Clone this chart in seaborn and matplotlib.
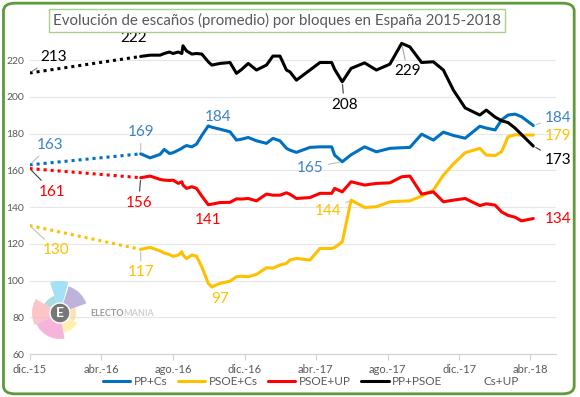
import matplotlib as mpl
import matplotlib.dates as mdates
import numpy as np
import pandas as pd
import seaborn as sns
from matplotlib import pyplot as plt
from matplotlib.lines import Line2D
from matplotlib.patches import FancyBboxPatch, Wedge, Circle

# fechas: resultado 20D-2015, resultado 26J-2016 y promedio de encuestas
fechas = [
    '2015-12-20', '2016-06-26', '2016-07-12', '2016-07-29', '2016-08-05', '2016-08-14',
    '2016-08-20', '2016-08-29', '2016-09-04', '2016-09-06', '2016-09-12', '2016-09-21',
    '2016-09-29', '2016-10-08', '2016-10-19', '2016-10-25', '2016-11-08', '2016-11-25',
    '2016-12-06', '2016-12-15', '2016-12-26', '2017-01-09', '2017-01-26', '2017-02-06',
    '2017-02-18', '2017-03-01', '2017-03-07', '2017-03-18', '2017-04-10', '2017-04-27',
    '2017-05-17', '2017-05-22', '2017-06-04', '2017-06-19', '2017-07-12', '2017-08-01',
    '2017-08-24', '2017-09-13', '2017-09-27', '2017-10-17', '2017-11-06', '2017-11-23',
    '2017-12-10', '2017-12-30', '2018-01-24', '2018-02-04', '2018-02-19', '2018-03-02',
    '2018-03-13', '2018-03-25', '2018-04-05', '2018-04-25',
]
pp_cs = [
    163, 169, 166.8, 168.7, 171.4, 169.2, 169.6, 171.0, 172.0, 172.5, 173.5, 172.8,
    174.3, 179.0, 184.2, 183.5, 182.4, 181.0, 176.5, 177.0, 177.9, 176.1, 174.7, 177.4,
    176.1, 172.0, 171.0, 169.8, 172.5, 172.8, 172.8, 168.3, 164.7, 168.5, 172.8, 170.1,
    172.0, 172.3, 172.5, 179.7, 176.5, 180.8, 179.0, 177.5, 184.0, 183.0, 182.0, 187.5,
    190.1, 190.6, 189.2, 184.4,
]
psoe_cs = [
    130, 117, 118.1, 116.2, 115.0, 114.2, 113.2, 113.9, 115.7, 114.0, 112.0, 113.9,
    113.3, 107.5, 98.5, 96.6, 98.5, 99.7, 102.1, 102.4, 102.1, 103.4, 107.0, 106.8,
    108.5, 109.4, 111.2, 112.1, 111.2, 117.5, 117.5, 118.0, 121.1, 143.8, 139.8, 140.2,
    142.9, 143.2, 143.4, 146.0, 149.3, 157.4, 163.5, 169.6, 172.0, 168.3, 168.1, 170.1,
    178.3, 179.4, 179.2, 179.2,
]
psoe_up = [
    161, 156, 156.9, 155.1, 154.7, 154.5, 154.7, 152.9, 153.8, 152.0, 150.2, 151.1,
    150.2, 146.0, 141.3, 141.6, 142.5, 142.6, 144.5, 144.4, 144.7, 143.4, 147.1, 146.5,
    146.5, 147.8, 147.0, 144.7, 145.2, 147.5, 147.5, 150.2, 148.3, 153.8, 152.0, 152.9,
    153.2, 156.5, 156.9, 147.1, 148.3, 142.9, 143.8, 144.7, 140.8, 141.8, 141.1, 137.4,
    135.5, 134.5, 132.5, 133.8,
]
pp_psoe = [
    213, 222, 222.7, 222.7, 223.6, 224.4, 223.6, 224.4, 223.6, 227.8, 225.0, 223.3,
    223.6, 223.3, 219.1, 217.3, 218.2, 218.7, 212.8, 215.0, 218.2, 214.6, 217.3, 222.2,
    222.2, 214.6, 213.6, 209.1, 214.6, 218.7, 218.7, 215.0, 208.2, 215.5, 218.5, 214.6,
    217.8, 229.1, 227.2, 218.7, 219.1, 214.6, 203.7, 194.0, 190.1, 192.8, 189.0, 187.0,
    186.0, 183.0, 179.5, 173.2,
]

series = ['PP+Cs', 'PSOE+Cs', 'PSOE+UP', 'PP+PSOE']
line_colors = ['#0070C0', '#FFC000', '#FF0000', '#000000']
label_colors = ['#3E82C4', '#FFC000', '#FF0000', '#000000']
tick_labels = ['dic.-15', 'abr.-16', 'ago.-16', 'dic.-16', 'abr.-17', 'ago.-17', 'dic.-17', 'abr.-18']

df = pd.DataFrame({
    'FECHA': pd.to_datetime(fechas),
    'PP+Cs': pp_cs,
    'PSOE+Cs': psoe_cs,
    'PSOE+UP': psoe_up,
    'PP+PSOE': pp_psoe,
})

sns.set_style('white')
plt.rcParams['font.family'] = ['Lato', 'DejaVu Sans']

fig = plt.figure(figsize=(5.8, 3.97), dpi=100)
ax = fig.add_axes([0.051, 0.108, 0.907, 0.81])

for name, col in zip(series, line_colors):
    # tramo punteado entre las dos elecciones
    sns.lineplot(x=df['FECHA'][:2], y=df[name][:2], ax=ax, color=col, lw=2.2,
                 linestyle=(0, (1, 1.3)))
    sns.lineplot(x=df['FECHA'][1:], y=df[name][1:], ax=ax, color=col, lw=2.2)

ax.set_ylim(60, 235)
ax.set_xlim(pd.Timestamp('2015-12-20'), pd.Timestamp('2018-06-02'))
ax.set_yticks(np.arange(60, 221, 20))
ax.set_xticks(pd.date_range('2015-12-20', periods=8, freq=pd.DateOffset(months=4)))
ax.set_xticklabels(tick_labels)
ax.set(xlabel=None, ylabel=None)
ax.grid(True, axis='y', color='#E6E6E6', lw=0.8)
ax.set_axisbelow(True)
for s in ['top', 'right', 'left']:
    ax.spines[s].set_visible(False)
ax.spines['bottom'].set_color('#D0D0D0')
ax.tick_params(axis='y', length=0, labelsize=7.5, labelcolor='#595959', pad=4)
ax.tick_params(axis='x', length=4, color='#D0D0D0', direction='out', bottom=True,
               labelsize=8, labelcolor='#595959', pad=3)

# etiquetas de valores: (serie, indice, desplazamiento en px, guia)
etiquetas = [
    ('PP+PSOE', 0, (24, 16), '#7F7F7F'),
    ('PP+PSOE', 1, (-7, 18), None),
    ('PP+PSOE', 32, (2, -23), '#404040'),
    ('PP+PSOE', 37, (6, -28), '#A6A6A6'),
    ('PP+PSOE', 51, (25, -14), '#404040'),
    ('PP+Cs', 0, (21, 20), '#BFBFBF'),
    ('PP+Cs', 1, (0, 22), '#BFBFBF'),
    ('PP+Cs', 14, (10, 9), None),
    ('PP+Cs', 32, (-32, -6), '#BFBFBF'),
    ('PP+Cs', 51, (25, 8), '#BFBFBF'),
    ('PSOE+Cs', 0, (27, -25), '#BFBFBF'),
    ('PSOE+Cs', 1, (0, -23), '#BFBFBF'),
    ('PSOE+Cs', 15, (8, -12), None),
    ('PSOE+Cs', 33, (-23, -11), '#BFBFBF'),
    ('PSOE+Cs', 51, (25, -1), None),
    ('PSOE+UP', 0, (23, -23), '#404040'),
    ('PSOE+UP', 1, (-2, -25), '#404040'),
    ('PSOE+UP', 14, (0, -15), None),
    ('PSOE+UP', 51, (25, 0), None),
]
for name, i, off, guia in etiquetas:
    col = label_colors[series.index(name)]
    props = dict(arrowstyle='-', color=guia, lw=0.8, shrinkA=1, shrinkB=2) if guia else None
    ax.annotate(f'{df[name][i]:.0f}', xy=(df['FECHA'][i], df[name][i]),
                xytext=off, textcoords='offset pixels', ha='center', va='center',
                fontsize=11, color=col, arrowprops=props)

# logo de fondo
logo = [(75, 108, 32, '#86D8F2'), (20, 72, 28, '#A79AD0'), (108, 150, 18, '#8FCFD6'),
        (150, 205, 28, '#FBB3B8'), (205, 280, 26, '#F39AD0'), (280, 330, 20, '#FFEB99'),
        (330, 20, 16, '#FCD79A')]
for a1, a2, r, c in logo:
    fig.add_artist(Wedge((60, 397 - 313), r, a1, a2, facecolor=c, alpha=0.75,
                         transform=None, edgecolor='none'))
fig.add_artist(Circle((60, 397 - 313), 10, facecolor='#777777', transform=None))
fig.text(60 / 580, 1 - 313 / 397, 'E', color='white', fontsize=10, fontweight='bold',
         ha='center', va='center')
fig.text(90 / 580, 1 - 313 / 397, 'ELECTO', color='#9A9A9A', fontsize=6.5,
         fontweight='bold', ha='left', va='center')
fig.text(123 / 580, 1 - 313 / 397, 'MANIA', color='#D0D0D0', fontsize=6.5,
         fontweight='bold', ha='left', va='center')

fig.text(0.478, 0.948, 'Evolución de escaños (promedio) por bloques en España 2015-2018',
         ha='center', va='center', fontsize=10.8, color='#595959',
         bbox=dict(facecolor='white', edgecolor='#A9D18E', pad=3, lw=1))

handles = [Line2D([], [], color=c, lw=2.2) for c in line_colors]
handles.append(Line2D([], [], color='none', lw=2.2))
fig.legend(handles, series + ['Cs+UP'], loc='center', bbox_to_anchor=(0.536, 0.038),
           ncol=5, frameon=False, fontsize=8.5, labelcolor='#595959',
           handlelength=2.3, handletextpad=0.3, columnspacing=0.9)

fig.add_artist(FancyBboxPatch((0.006, 0.008), 0.984, 0.984,
                              boxstyle='round,pad=0,rounding_size=0.02',
                              transform=fig.transFigure, facecolor='none',
                              edgecolor='#5E9A38', lw=2))

plt.savefig('out.png', dpi=100)
